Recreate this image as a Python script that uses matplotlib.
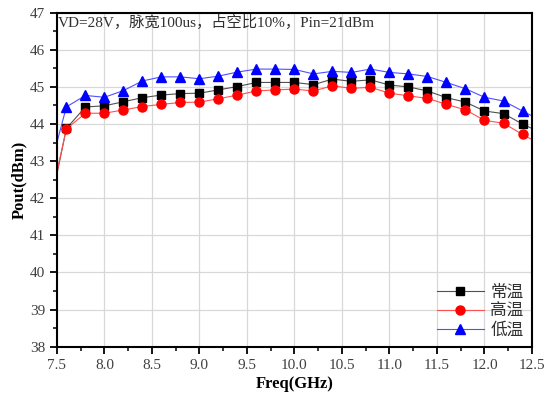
import matplotlib.pyplot as plt
from matplotlib.ticker import MultipleLocator

# frequency points (GHz); the end points at 7.5 / 12.5 carry no marker
freq = [7.5, 7.6, 7.8, 8.0, 8.2, 8.4, 8.6, 8.8, 9.0, 9.2, 9.4, 9.6, 9.8,
        10.0, 10.2, 10.4, 10.6, 10.8, 11.0, 11.2, 11.4, 11.6, 11.8, 12.0,
        12.2, 12.4, 12.5]

room = [42.65, 43.88, 44.46, 44.49, 44.60, 44.71, 44.78, 44.82, 44.83, 44.92,
        45.01, 45.12, 45.12, 45.12, 45.06, 45.21, 45.15, 45.19, 45.05, 45.00,
        44.89, 44.71, 44.59, 44.35, 44.28, 44.00, 43.88]
hot = [42.70, 43.87, 44.29, 44.29, 44.38, 44.47, 44.53, 44.58, 44.59, 44.68,
       44.78, 44.89, 44.92, 44.94, 44.89, 45.03, 44.96, 44.99, 44.83, 44.76,
       44.69, 44.53, 44.38, 44.10, 44.02, 43.72, 43.58]
cold = [43.50, 44.46, 44.77, 44.72, 44.90, 45.16, 45.27, 45.27, 45.22, 45.29,
        45.40, 45.48, 45.48, 45.47, 45.35, 45.42, 45.39, 45.48, 45.39, 45.35,
        45.28, 45.12, 44.95, 44.72, 44.62, 44.35, 44.22]

labels = ['常温', '高温', '低温']
title = 'VD=28V，脉宽100us，占空比10%，Pin=21dBm'

fig = plt.figure(figsize=(5.47, 3.96), dpi=100)
ax = fig.add_axes([0.104, 0.1245, 0.8686, 0.8435])

marks = list(range(1, len(freq) - 1))
series = [
    (room, 's', 'black', '#505050', 5.5),
    (hot, 'o', 'red', '#ff5050', 6.5),
    (cold, '^', 'blue', '#5050ff', 6.5),
]
for (vals, mk, mc, lc, ms), lab in zip(series, labels):
    ax.plot(freq, vals, color=lc, lw=0.8, marker=mk, markersize=ms,
            markerfacecolor=mc, markeredgecolor=mc, markevery=marks, label=lab)

ax.set_xlim(7.5, 12.5)
ax.set_ylim(38, 47)
ax.xaxis.set_major_locator(MultipleLocator(0.5))
ax.xaxis.set_minor_locator(MultipleLocator(0.25))
ax.yaxis.set_major_locator(MultipleLocator(1))
ax.yaxis.set_minor_locator(MultipleLocator(0.5))
ax.xaxis.set_major_formatter(plt.FuncFormatter(lambda v, p: f'{v:.1f}'))
ax.grid(True, which='major', color='#d8d8d8', lw=0.9)
ax.set_axisbelow(True)

ax.tick_params(which='major', direction='out', length=5, width=1.3,
               labelsize=11, labelcolor='#404040')
ax.tick_params(which='minor', direction='out', length=3, width=1.1)
for lbl in ax.get_xticklabels() + ax.get_yticklabels():
    lbl.set_family('Liberation Serif')
for sp in ax.spines.values():
    sp.set_linewidth(1.5)

ax.set_xlabel('Freq(GHz)', fontsize=12, fontweight='bold',
              family='Liberation Serif', labelpad=3)
ax.set_ylabel('Pout(dBm)', fontsize=12, fontweight='bold',
              family='Liberation Serif', labelpad=2)

ax.text(0.003, 0.995, title, transform=ax.transAxes, ha='left', va='top',
        fontsize=11, color='#303030',
        family=['Liberation Serif', 'Noto Sans CJK SC'])

leg = ax.legend(loc='lower right', frameon=False, handlelength=2.8,
                handletextpad=0.4, labelspacing=0.1, borderaxespad=0.1,
                prop={'family': 'Noto Sans CJK SC', 'size': 12})
for t in leg.get_texts():
    t.set_color('#303030')

fig.savefig('out.png', dpi=100)
